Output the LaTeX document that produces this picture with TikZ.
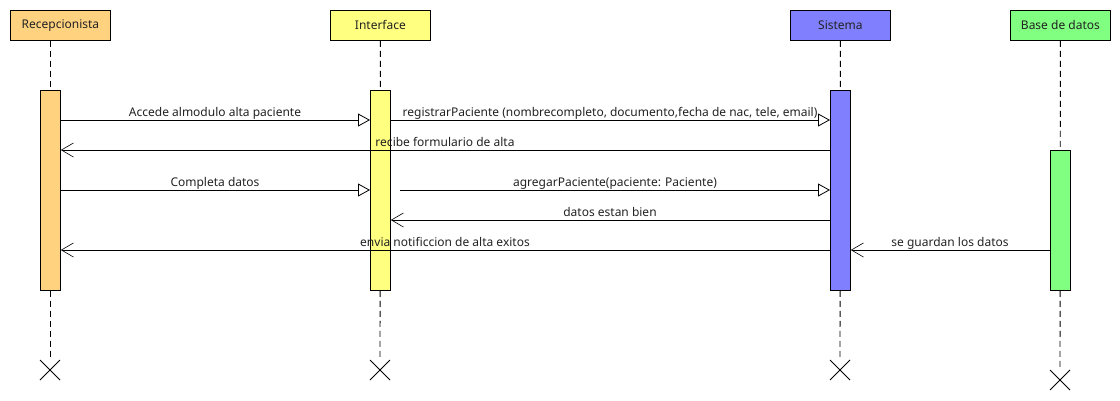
\documentclass[tikz,border=0pt]{standalone}
\usepackage{fontspec}
\setmainfont{Noto Sans}
\usetikzlibrary{arrows.meta}
\definecolor{cR}{HTML}{FFD280}
\definecolor{cI}{HTML}{FFFF80}
\definecolor{cS}{HTML}{8080FF}
\definecolor{cB}{HTML}{80FF80}
\definecolor{txt}{HTML}{222222}
\begin{document}
\begin{tikzpicture}[x=1pt,y=-1pt,
  font=\fontsize{12}{14}\selectfont,
  head/.style={draw=black,line width=0.8pt,minimum width=100pt,minimum height=30pt,inner sep=0pt,anchor=north west,text=txt},
  bar/.style={draw=black,line width=0.8pt,minimum width=20pt,inner sep=0pt,anchor=north west},
  life/.style={line width=0.9pt,dash pattern=on 6pt off 4pt},
  msg/.style={line width=0.8pt,-{Triangle[open,length=12pt,width=13pt,fill=white,line width=0.8pt]}},
  ret/.style={line width=0.8pt,-{Straight Barb[length=12pt,width=14pt,line width=0.6pt]}},
  lbl/.style={text=txt,inner sep=0pt,anchor=base},
  endx/.style={line width=0.8pt}]
\useasboundingbox (0,0) rectangle (1120,400);
% heads
\node[head,fill=cR] (hR) at (10,10) {Recepcionista};
\node[head,fill=cI] (hI) at (330,10) {Interface};
\node[head,fill=cS] (hS) at (790,10) {Sistema};
\node[head,fill=cB] (hB) at (1010,10) {Base de datos};
% end points
\coordinate (eR) at (50,360);
\coordinate (eI) at (380,360);
\coordinate (eS) at (840,360);
\coordinate (eB) at (1060,370);
% lifelines
\draw[life] (hR.south -| eR) -- (eR);
\draw[life] (hI.south) -- (eI);
\draw[life] (hS.south) -- (eS);
\draw[life] (hB.south) -- (eB);
% activation bars
\node[bar,fill=cR,minimum height=200pt] (bR) at (40,90) {};
\node[bar,fill=cI,minimum height=200pt] (bI) at (370,90) {};
\node[bar,fill=cS,minimum height=200pt] (bS) at (830,90) {};
\node[bar,fill=cB,minimum height=140pt] (bB) at (1050,150) {};
% X marks
\foreach \e in {eR,eI,eS,eB}{
  \draw[endx] ([shift={(-10,0)}]\e) -- ([shift={(10,20)}]\e);
  \draw[endx] ([shift={(10,0)}]\e) -- ([shift={(-10,20)}]\e);
}
% messages
\draw[msg] (bR.east |- 0,120) -- (bI.west |- 0,120);
\node[lbl] (m1) at (215,116) {Accede almodulo alta paciente};
\draw[msg] (bI.east |- 0,120) -- (bS.west |- 0,120);
\node[lbl] (m2) at (610,116) {registrarPaciente (nombrecompleto, documento,fecha de nac, tele, email)};
\draw[ret] (bS.west |- 0,150) -- (bR.east |- 0,150);
\node[lbl] (m3) at (445,146) {recibe formulario de alta};
\draw[msg] (bR.east |- 0,190) -- (bI.west |- 0,190);
\node[lbl] (m4) at (215,186) {Completa datos};
\coordinate (s5) at (400,190);
\draw[msg] (s5) -- (bS.west |- 0,190);
\node[lbl] (m5) at (615,186) {agregarPaciente(paciente: Paciente)};
\draw[ret] (bS.west |- 0,220) -- (bI.east |- 0,220);
\node[lbl] (m6) at (610,216) {datos estan bien};
\draw[ret] (bS.west |- 0,250) -- (bR.east |- 0,250);
\node[lbl] (m7) at (445,246) {envia notificcion de alta exitos};
\draw[ret] (bB.west |- 0,250) -- (bS.east |- 0,250);
\node[lbl] (m8) at (950,246) {se guardan los datos};
\end{tikzpicture}
\end{document}
